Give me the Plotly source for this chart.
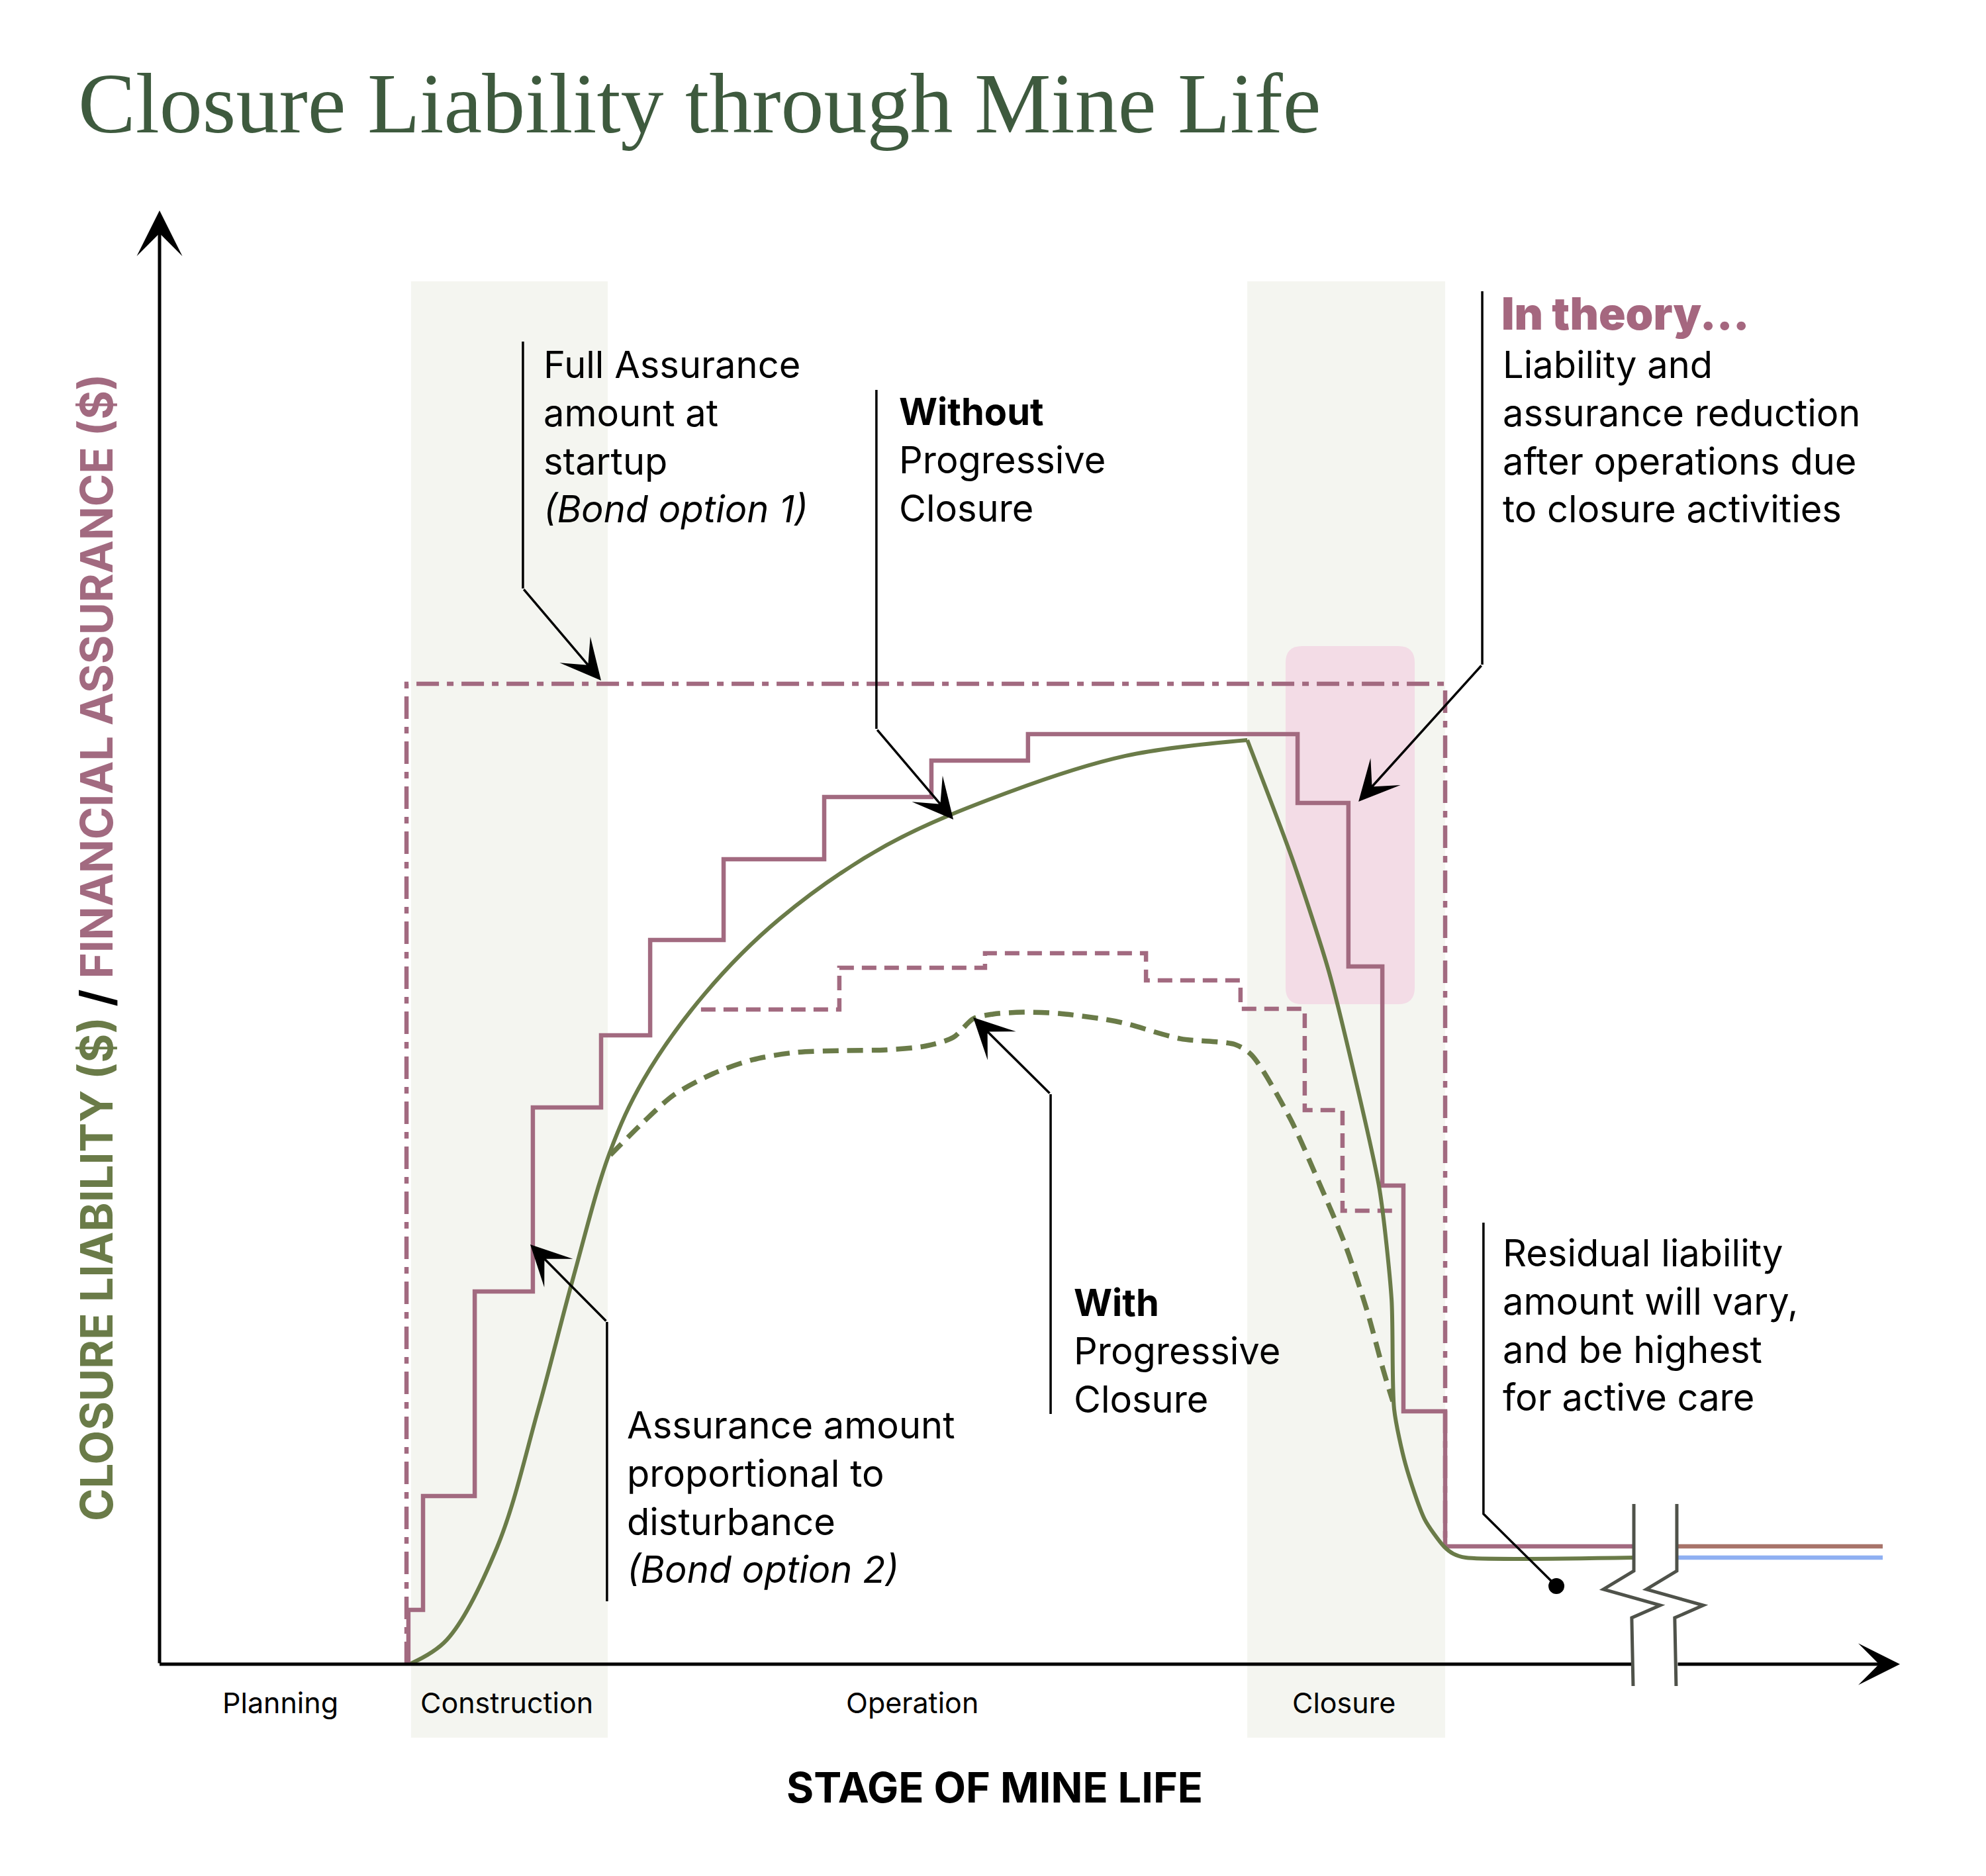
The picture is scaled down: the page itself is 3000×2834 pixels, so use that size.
import plotly.graph_objects as go

# ---------------- data (abstract units: stage of mine life 0-100, $ 0-100) ----------------
# Liability WITHOUT progressive closure (solid green)
liab_rise_x = [14.45, 16.51, 19.40, 21.76, 23.77, 25.87, 27.81, 31.30, 35.64, 41.76, 48.76, 55.50, 62.50]
liab_rise_y = [0.05, 1.68, 8.06, 17.53, 26.59, 35.20, 40.21, 46.08, 51.28, 56.33, 59.97, 62.48, 63.57]
liab_fall_x = [62.50, 65.12, 67.17, 68.73, 70.10, 70.79, 70.94, 71.59, 72.69, 73.79, 74.33, 75.05, 84.67]
liab_fall_y = [63.57, 55.28, 47.72, 40.16, 32.65, 25.09, 17.53, 13.75, 9.97, 8.11, 7.60, 7.33, 7.33]

# Liability WITH progressive closure (dashed green)
prog_x = [25.90, 27.81, 29.55, 31.80, 34.08, 36.52, 39.14, 41.76, 44.05, 45.61, 46.75, 47.89, 49.64,
          51.69, 54.36, 55.50, 58.65, 61.81, 62.76, 64.97, 66.53, 68.12, 69.38, 70.33, 70.86]
prog_y = [35.02, 37.30, 39.16, 40.62, 41.58, 42.08, 42.21, 42.26, 42.53, 43.12, 44.40, 44.72, 44.85,
          44.76, 44.35, 44.08, 43.03, 42.62, 41.89, 37.52, 33.38, 28.87, 24.32, 20.17, 18.08]

# Assurance proportional to disturbance (Bond option 2) - solid mauve steps
bond2_x = [14.30, 14.30, 15.14, 18.11, 21.45, 25.37, 28.19, 32.41, 38.19, 44.35, 49.90,
           65.39, 68.31, 70.26, 71.47, 73.87, 84.67]
bond2_y = [0.00, 3.73, 11.57, 25.64, 38.30, 43.26, 49.82, 55.37, 59.65, 62.16, 63.98,
           59.24, 48.00, 32.92, 17.40, 8.11, 8.11]

# Full assurance at startup (Bond option 1) - dash-dot mauve
bond1_x = [14.19, 14.19, 73.87, 73.87]
bond1_y = [0.00, 67.44, 67.44, 8.11]

# Assurance with progressive closure - dashed mauve steps
bondp_x = [31.11, 39.06, 47.43, 56.68, 62.11, 65.80, 67.97, 70.94]
bondp_y = [45.04, 47.91, 48.91, 47.04, 45.08, 38.11, 31.19, 31.19]

# Long-term residual (after the break)
resid_x = [87.18, 99.01]
resid_assurance = [8.11, 8.11]
resid_liability = [7.33, 7.33]

# Stages
stage_names = ["Planning", "Construction", "Operation", "Closure"]
stage_label_px = [423, 765, 1378, 2030]
construction_band = (14.45, 25.75)
closure_band = (62.50, 73.87)
band_y = (-5.05, 95.13)
theory_box = (64.70, 72.12, 45.40, 70.04)

# ---------------- styles ----------------
MAUVE = "#a26a80"
GREEN = "#6a7b48"
TITLE_GREEN = "#3e5a3e"
BAND = "#f4f5f0"
PINK = "#f3dce6"
BROWN = "#a8746a"
BLUE = "#8fb0f2"
BREAK = "#4f524a"
FONT = "Inter"

W, H = 3000, 2834
OFF = 8  # page body margin
XPU, YPU = 26.29, 21.96  # pixels per unit
X0PX, Y0PX = 241 - OFF, 2514 - OFF
XR = [-X0PX / XPU, (W - X0PX) / XPU]
YR = [-(H - Y0PX) / YPU, Y0PX / YPU]


def px(xp):
    return (xp - OFF) / W


def py(yp):
    return 1 - (yp - OFF) / H


fig = go.Figure()

# series
fig.add_trace(go.Scatter(x=bond1_x, y=bond1_y, mode="lines",
                         line=dict(color=MAUVE, width=6.5, dash="34px,12px,10px,12px")))
fig.add_trace(go.Scatter(x=bondp_x, y=bondp_y, mode="lines", line_shape="hv",
                         line=dict(color=MAUVE, width=6.5, dash="22px,12px")))
fig.add_trace(go.Scatter(x=bond2_x, y=bond2_y, mode="lines", line_shape="hv",
                         line=dict(color=MAUVE, width=6.5)))
fig.add_trace(go.Scatter(x=prog_x, y=prog_y, mode="lines", line_shape="spline",
                         line=dict(color=GREEN, width=7.5, dash="24px,13px", smoothing=0.8)))
fig.add_trace(go.Scatter(x=liab_rise_x, y=liab_rise_y, mode="lines", line_shape="spline",
                         line=dict(color=GREEN, width=6, smoothing=1.0)))
fig.add_trace(go.Scatter(x=liab_fall_x, y=liab_fall_y, mode="lines", line_shape="spline",
                         line=dict(color=GREEN, width=6, smoothing=0.7)))
fig.add_trace(go.Scatter(x=resid_x, y=resid_assurance, mode="lines", line=dict(color=BROWN, width=6.5)))
fig.add_trace(go.Scatter(x=resid_x, y=resid_liability, mode="lines", line=dict(color=BLUE, width=6.5)))

# residual callout dot
dot_x, dot_y = 80.26, 5.37
fig.add_trace(go.Scatter(x=[dot_x], y=[dot_y], mode="markers",
                         marker=dict(color="black", size=24)))

shapes = []
# background bands
for b in (construction_band, closure_band):
    shapes.append(dict(type="rect", xref="x", yref="y", x0=b[0], x1=b[1], y0=band_y[0], y1=band_y[1],
                       fillcolor=BAND, line=dict(width=0), layer="below"))
# rounded "in theory" box
x0, x1, y0, y1 = theory_box
rx, ry = 0.95, 1.14
path = (f"M{x0+rx},{y0} L{x1-rx},{y0} Q{x1},{y0} {x1},{y0+ry} L{x1},{y1-ry} Q{x1},{y1} {x1-rx},{y1} "
        f"L{x0+rx},{y1} Q{x0},{y1} {x0},{y1-ry} L{x0},{y0+ry} Q{x0},{y0} {x0+rx},{y0} Z")
shapes.append(dict(type="path", xref="x", yref="y", path=path, fillcolor=PINK,
                   line=dict(width=0), layer="below"))

# x axis (first segment, before break)
shapes.append(dict(type="line", xref="x", yref="y", x0=0, x1=84.67, y0=0, y1=0,
                   line=dict(color="black", width=5)))

# break symbol
brk_dx = [0.0, 0.0, -1.75, 1.52, -0.12, -0.04]
brk_y = [11.02, 6.42, 5.15, 4.05, 3.19, -1.50]
for bx in (84.71, 87.18):
    pts = [(bx + d, yv) for d, yv in zip(brk_dx, brk_y)]
    p = "M" + " L".join(f"{a},{b}" for a, b in pts)
    shapes.append(dict(type="path", xref="x", yref="y", path=p,
                       line=dict(color=BREAK, width=5)))

annotations = []


def arrow(tip, tail, width=3.5, size=2.9):
    annotations.append(dict(x=tip[0], y=tip[1], ax=tail[0], ay=tail[1], xref="x", yref="y",
                            axref="x", ayref="y", text="", showarrow=True, arrowhead=3,
                            arrowsize=size, arrowwidth=width, arrowcolor="black", standoff=0))


# axes arrows
arrow((0, 100), (0, 0), width=5, size=2.3)
arrow((100, 0), (87.18, 0), width=5, size=2.1)

# leader lines: (top of vertical, knee, tip)
leaders = [
    ((20.88, 90.98), (20.88, 74.00), (25.37, 67.67)),
    ((41.19, 87.66), (41.19, 64.34), (45.61, 58.11)),
    ((76.00, 94.44), (76.00, 68.76), (68.89, 59.34)),
    ((51.20, 17.21), (51.20, 39.21), (46.75, 44.49)),
    ((25.71, 4.33), (25.71, 23.54), (21.30, 28.87)),
]
for top, knee, tip in leaders:
    shapes.append(dict(type="line", xref="x", yref="y", x0=top[0], y0=top[1], x1=knee[0], y1=knee[1],
                       line=dict(color="black", width=3.5)))
    arrow(tip, knee)
# residual leader (to dot)
shapes.append(dict(type="path", xref="x", yref="y",
                   path=f"M76.07,30.37 L76.07,10.34 L{dot_x},{dot_y}",
                   line=dict(color="black", width=3.5)))


def text(t, xp, yp, size=56, color="black", xanchor="left", yanchor="middle", family=FONT,
         angle=0, weight=None):
    f = dict(family=family, size=size, color=color)
    if weight:
        f["weight"] = weight
    annotations.append(dict(text=t, x=px(xp), y=py(yp), xref="paper", yref="paper",
                            xanchor=xanchor, yanchor=yanchor, showarrow=False, align="left",
                            textangle=angle, font=f))


# title
text("Closure Liability through Mine Life", 116, 156, size=130, color=TITLE_GREEN,
     family="Liberation Serif")

# callout texts
text("Full Assurance<br>amount at<br>startup<br><i>(Bond option 1)</i>", 819, 660)
text("<b>Without</b><br>Progressive<br>Closure", 1356, 695)
text("In theory...", 2266, 474, size=67, color="#a5677f", weight=900)
text("Liability and<br>assurance reduction<br>after operations due<br>to closure activities", 2268, 660)
text("<b>With</b><br>Progressive<br>Closure", 1620, 2041)
text("Assurance amount<br>proportional to<br>disturbance<br><i>(Bond option 2)</i>", 945, 2262)
text("Residual liability<br>amount will vary,<br>and be highest<br>for active care", 2268, 2002)

# stage labels
for name, xpx in zip(stage_names, stage_label_px):
    text(name, xpx, 2572, size=43, xanchor="center")

# axis titles
text("<b>STAGE OF MINE LIFE</b>", 1502, 2700, size=63, xanchor="center")
text(f"<b><span style='color:{GREEN}'>CLOSURE LIABILITY ($)</span> / "
     f"<span style='color:{MAUVE}'>FINANCIAL ASSURANCE ($)</span></b>",
     145, 1432, size=67, xanchor="center", angle=-90)

fig.update_layout(
    width=W, height=H, margin=dict(l=0, r=0, t=0, b=0),
    paper_bgcolor="white", plot_bgcolor="white", showlegend=False,
    xaxis=dict(range=XR, visible=False, domain=[0, 1], fixedrange=True),
    yaxis=dict(range=YR, visible=False, domain=[0, 1], fixedrange=True),
    shapes=shapes, annotations=annotations,
)
fig.write_html("out.html")
